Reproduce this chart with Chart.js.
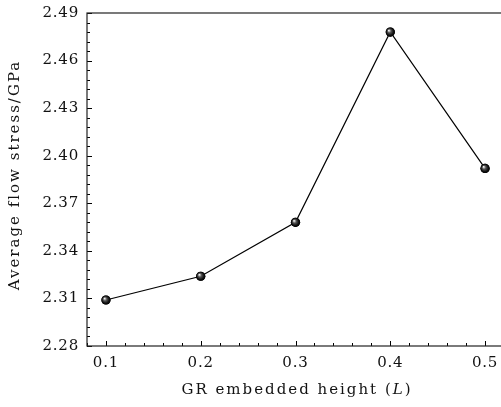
<!DOCTYPE html>
<html>
<head>
<meta charset="utf-8">
<script src="https://cdn.jsdelivr.net/npm/chart.js@4.4.1/dist/chart.umd.min.js"></script>
<style>
  html, body { margin: 0; padding: 0; background: #fff; overflow: hidden; width: 501px; height: 407px; }
  canvas { display: block; }
</style>
</head>
<body>
<canvas id="flowChart" width="504" height="407"></canvas>
<script>
// Valores
const embeddedHeight = [0.1, 0.2, 0.3, 0.4, 0.5];
const flowStress = [2.309, 2.324, 2.358, 2.478, 2.392];
const xTickValues = [0.1, 0.2, 0.3, 0.4, 0.5];
const yTickValues = [2.28, 2.31, 2.34, 2.37, 2.40, 2.43, 2.46, 2.49];

const serif = '"DejaVu Serif", "Liberation Serif", serif';
const spacing = '0.8px';

// Moldura, marcas internas, títulos e marcadores esféricos
const framePlugin = {
    id: 'frame',
    beforeLayout(chart) { chart.ctx.letterSpacing = spacing; },
    beforeDraw(chart) { chart.ctx.letterSpacing = spacing; },
    afterDatasetsDraw(chart) {
        const ctx = chart.ctx;
        const meta = chart.getDatasetMeta(0);
        meta.data.forEach(pt => {
            const g = ctx.createRadialGradient(pt.x - 1.5, pt.y - 1.6, 0.3, pt.x, pt.y, 4.6);
            g.addColorStop(0, '#f2f2f2');
            g.addColorStop(0.35, '#555');
            g.addColorStop(0.75, '#111');
            g.addColorStop(1, '#000');
            ctx.save();
            ctx.beginPath();
            ctx.arc(pt.x, pt.y, 4.6, 0, Math.PI * 2);
            ctx.fillStyle = g;
            ctx.fill();
            ctx.restore();
        });
    },
    afterDraw(chart) {
        const ctx = chart.ctx;
        const a = chart.chartArea;
        const xs = chart.scales.x;
        const ys = chart.scales.y;
        ctx.save();
        ctx.strokeStyle = '#000';
        ctx.lineWidth = 1;

        // marcas principais e secundárias
        ctx.beginPath();
        for (let v = 0.08; v <= 0.5201; v += 0.02) {
            const px = Math.round(xs.getPixelForValue(v)) + 0.5;
            const major = xTickValues.some(t => Math.abs(t - v) < 1e-6);
            ctx.moveTo(px, a.bottom);
            ctx.lineTo(px, a.bottom - (major ? 5 : 3));
        }
        for (let v = 2.28; v <= 2.4901; v += 0.006) {
            const py = Math.round(ys.getPixelForValue(v)) + 0.5;
            const major = yTickValues.some(t => Math.abs(t - v) < 1e-6);
            ctx.moveTo(a.left, py);
            ctx.lineTo(a.left + (major ? 5 : 3), py);
        }
        ctx.stroke();

        ctx.lineWidth = 1.2;
        ctx.strokeStyle = '#222';
        ctx.strokeRect(a.left, a.top, a.right - a.left, a.bottom - a.top);

        // título do eixo Y
        ctx.fillStyle = '#111';
        ctx.letterSpacing = '2px';
        ctx.font = '15px ' + serif;
        ctx.textAlign = 'center';
        ctx.textBaseline = 'middle';
        ctx.save();
        ctx.translate(15, 175);
        ctx.rotate(-Math.PI / 2);
        ctx.fillText('Average flow stress/GPa', 0, 0);
        ctx.restore();

        // título do eixo X com L em itálico
        const parts = [
            { t: 'GR embedded height (', f: '15px ' + serif },
            { t: 'L', f: 'italic 15px ' + serif },
            { t: ')', f: '15px ' + serif }
        ];
        let total = 0;
        parts.forEach(p => { ctx.font = p.f; p.w = ctx.measureText(p.t).width; total += p.w; });
        let x = 297 - total / 2;
        ctx.textAlign = 'left';
        parts.forEach(p => {
            ctx.font = p.f;
            ctx.fillText(p.t, x, 390);
            x += p.w;
        });
        ctx.restore();
    }
};

new Chart(document.getElementById('flowChart'), {
    type: 'scatter',
    data: {
        datasets: [{
            data: embeddedHeight.map((x, i) => ({ x: x, y: flowStress[i] })),
            showLine: true,
            borderColor: '#000',
            borderWidth: 1.2,
            pointRadius: 4.6,
            pointBackgroundColor: '#000',
            pointBorderWidth: 0,
            tension: 0
        }]
    },
    options: {
        responsive: false,
        animation: false,
        layout: { autoPadding: false, padding: { top: 13, right: 0, left: 0, bottom: 0 } },
        plugins: {
            legend: { display: false },
            tooltip: { enabled: false }
        },
        scales: {
            x: {
                type: 'linear',
                min: 0.08,
                max: 0.52,
                afterBuildTicks(scale) { scale.ticks = xTickValues.map(v => ({ value: v })); },
                afterFit(scale) {
                    scale.height = 61;
                    scale.paddingLeft = 0;
                    scale.paddingRight = 0;
                },
                grid: { display: false, drawTicks: false },
                border: { display: false },
                ticks: {
                    padding: 8,
                    color: '#111',
                    font: { family: serif, size: 15 },
                    callback: v => v.toFixed(1)
                }
            },
            y: {
                min: 2.28,
                max: 2.49,
                afterBuildTicks(scale) { scale.ticks = yTickValues.map(v => ({ value: v })); },
                afterFit(scale) {
                    scale.width = 87;
                    scale.paddingTop = 0;
                    scale.paddingBottom = 0;
                },
                grid: { display: false, drawTicks: false },
                border: { display: false },
                ticks: {
                    padding: 8,
                    color: '#111',
                    font: { family: serif, size: 15 },
                    callback: v => v.toFixed(2)
                }
            }
        }
    },
    plugins: [framePlugin]
});
</script>
</body>
</html>
